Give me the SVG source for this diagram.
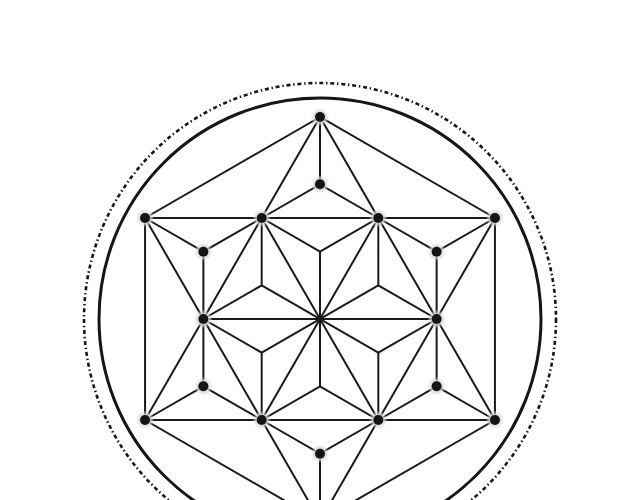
<svg xmlns="http://www.w3.org/2000/svg" width="640" height="500" viewBox="0 0 640 500">
<style>
.ln{stroke:#1a1a1a;stroke-width:2;fill:none;stroke-linecap:round}
.ring{stroke:#161616;stroke-width:3;fill:none}
.dashring{stroke:#161616;stroke-width:2.6;fill:none;stroke-dasharray:4 2.8 1.4 2.8}
.halo{fill:url(#glow)}
.dot{fill:#141414}
</style>
<defs>
<radialGradient id="glow">
<stop offset="0.5" stop-color="#d8d8d8"/>
<stop offset="1" stop-color="#d8d8d8" stop-opacity="0"/>
</radialGradient>
<g id="node">
<circle class="halo" r="9.5"/>
<circle class="dot" r="5"/>
</g>
</defs>
<rect width="640" height="500" fill="#ffffff"/>
<circle class="dashring" cx="320" cy="319" r="236"/>
<circle class="ring" cx="320" cy="319" r="221"/>
<g id="connectors">
<polygon class="ln" points="320,117 145.06,218 145.06,420 320,521 494.94,420 494.94,218"/>
<polygon class="ln" points="320,117 145.06,420 494.94,420"/>
<polygon class="ln" points="494.94,218 145.06,218 320,521"/>
<line class="ln" x1="320" y1="117" x2="320" y2="184.33"/>
<line class="ln" x1="145.06" y1="218" x2="203.37" y2="251.67"/>
<line class="ln" x1="145.06" y1="420" x2="203.37" y2="386.33"/>
<line class="ln" x1="320" y1="521" x2="320" y2="453.67"/>
<line class="ln" x1="494.94" y1="420" x2="436.63" y2="386.33"/>
<line class="ln" x1="494.94" y1="218" x2="436.63" y2="251.67"/>
<polyline class="ln" points="378.31,218 320,184.33 261.69,218 203.37,251.67 203.37,319 203.37,386.33 261.69,420 320,453.67 378.31,420 436.63,386.33 436.63,319 436.63,251.67 378.31,218"/>
<line class="ln" x1="203.37" y1="319" x2="436.63" y2="319"/>
<line class="ln" x1="378.31" y1="218" x2="261.69" y2="420"/>
<line class="ln" x1="261.69" y1="218" x2="378.31" y2="420"/>
<line class="ln" x1="320" y1="251.67" x2="320" y2="386.33"/>
<line class="ln" x1="261.69" y1="285.33" x2="378.31" y2="352.67"/>
<line class="ln" x1="378.31" y1="285.33" x2="261.69" y2="352.67"/>
<polygon class="ln" points="320,251.67 378.31,218 378.31,285.33 436.63,319 378.31,352.67 378.31,420 320,386.33 261.69,420 261.69,352.67 203.37,319 261.69,285.33 261.69,218"/>
</g>
<g id="n-p90"><use href="#node" x="320" y="117"/></g>
<g id="n-p150"><use href="#node" x="145.06" y="218"/></g>
<g id="n-p210"><use href="#node" x="145.06" y="420"/></g>
<g id="n-p330"><use href="#node" x="494.94" y="420"/></g>
<g id="n-p30"><use href="#node" x="494.94" y="218"/></g>
<g id="n-q60"><use href="#node" x="378.31" y="218"/></g>
<g id="n-q120"><use href="#node" x="261.69" y="218"/></g>
<g id="n-q180"><use href="#node" x="203.37" y="319"/></g>
<g id="n-q240"><use href="#node" x="261.69" y="420"/></g>
<g id="n-q300"><use href="#node" x="378.31" y="420"/></g>
<g id="n-q0"><use href="#node" x="436.63" y="319"/></g>
<g id="n-s90"><use href="#node" x="320" y="184.33"/></g>
<g id="n-s150"><use href="#node" x="203.37" y="251.67"/></g>
<g id="n-s210"><use href="#node" x="203.37" y="386.33"/></g>
<g id="n-s270"><use href="#node" x="320" y="453.67"/></g>
<g id="n-s330"><use href="#node" x="436.63" y="386.33"/></g>
<g id="n-s30"><use href="#node" x="436.63" y="251.67"/></g>
</svg>
